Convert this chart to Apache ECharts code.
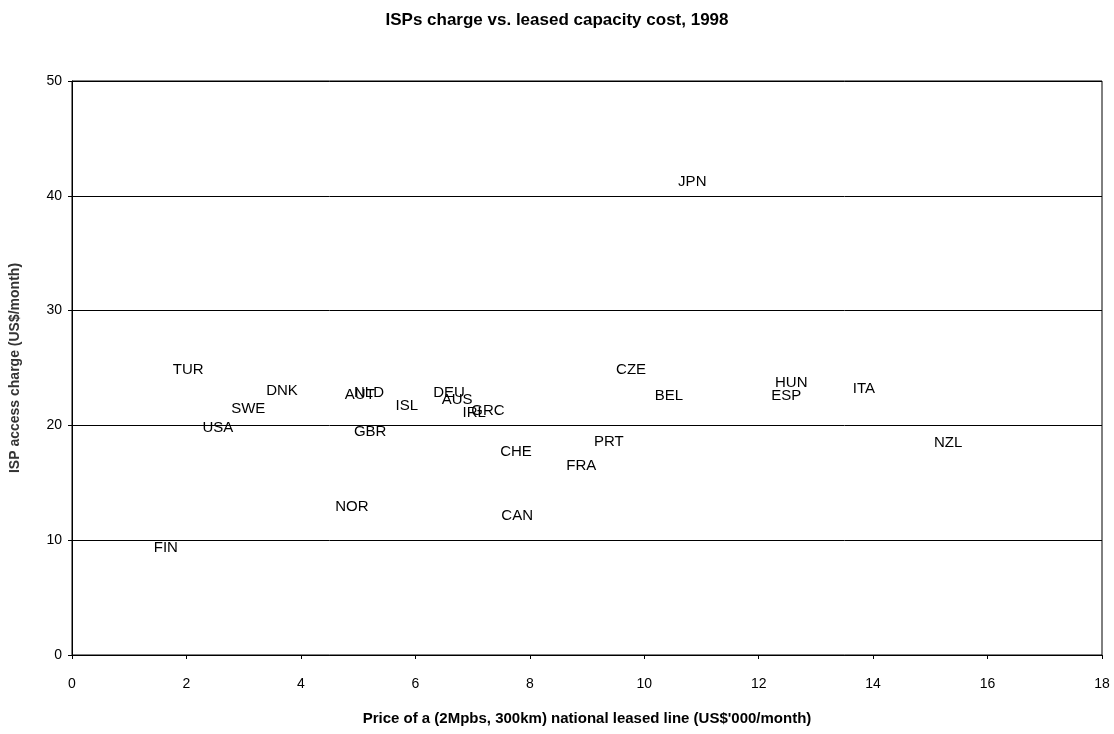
<!DOCTYPE html>
<html>
<head>
<meta charset="utf-8">
<script src="https://cdn.jsdelivr.net/npm/echarts@6/dist/echarts.min.js"></script>
<style>
  html, body { margin: 0; padding: 0; background: #fff; }
  #chart { width: 1114px; height: 734px; }
</style>
</head>
<body>
<div id="chart"></div>
<script>
// countries, leased line price (US$'000/month), ISP charge (US$/month)
var countries = ['JPN','TUR','DNK','SWE','USA','AUT','NLD','ISL','GBR','DEU','AUS','IRL','GRC','CHE','CAN','NOR','FIN','CZE','BEL','PRT','FRA','HUN','ESP','ITA','NZL'];
var leasedPrice = [10.84, 2.03, 3.67, 3.08, 2.55, 5.03, 5.19, 5.85, 5.21, 6.59, 6.73, 7.03, 7.27, 7.76, 7.78, 4.89, 1.64, 9.77, 10.43, 9.38, 8.90, 12.57, 12.48, 13.84, 15.31];
var ispCharge = [41.2, 24.8, 23.0, 21.4, 19.8, 22.7, 22.8, 21.7, 19.4, 22.8, 22.2, 21.1, 21.3, 17.7, 12.1, 12.9, 9.3, 24.8, 22.6, 18.6, 16.5, 23.7, 22.6, 23.2, 18.5];

var points = countries.map(function (c, i) {
  return { name: c, value: [leasedPrice[i], ispCharge[i]] };
});

var font = 'Liberation Sans, Arial, sans-serif';
var myChart = echarts.init(document.getElementById('chart'));
myChart.setOption({
  animation: false,
  backgroundColor: '#fff',
  title: {
    text: 'ISPs charge vs. leased capacity cost, 1998',
    left: 'center',
    top: 7,
    textStyle: { fontFamily: font, fontSize: 17, fontWeight: 'bold', color: '#000' }
  },
  grid: {
    left: 72, right: 12, top: 81, bottom: 79,
    show: true, borderColor: '#000', borderWidth: 1, backgroundColor: 'transparent'
  },
  xAxis: {
    type: 'value', min: 0, max: 18, interval: 2,
    name: "Price of a (2Mpbs, 300km) national leased line (US$'000/month)",
    nameLocation: 'middle', nameGap: 56,
    nameTextStyle: { fontFamily: font, fontSize: 15, fontWeight: 'bold', color: '#000' },
    axisLine: { lineStyle: { color: '#000' } },
    axisTick: { show: true, length: 4, lineStyle: { color: '#000' } },
    axisLabel: { fontFamily: font, fontSize: 14, color: '#000', margin: 22 },
    splitLine: { show: false }
  },
  yAxis: {
    type: 'value', min: 0, max: 50, interval: 10,
    name: 'ISP access charge (US$/month)',
    nameLocation: 'middle', nameGap: 50,
    nameTextStyle: { fontFamily: font, fontSize: 14, fontWeight: 'bold', color: '#333' },
    axisLine: { lineStyle: { color: '#000' } },
    axisTick: { show: true, length: 4, lineStyle: { color: '#000' } },
    axisLabel: { fontFamily: font, fontSize: 14, color: '#000', margin: 10 },
    splitLine: { show: true, lineStyle: { color: '#000', width: 1 } }
  },
  series: [{
    type: 'scatter',
    data: points,
    symbolSize: 0.01,
    itemStyle: { color: '#000', opacity: 1 },
    label: {
      show: true,
      position: 'inside',
      formatter: '{b}',
      fontFamily: font,
      fontSize: 15,
      color: '#000',
      opacity: 1,
      textBorderWidth: 0
    },
    emphasis: { disabled: true },
    labelLayout: { hideOverlap: false }
  }]
});
</script>
</body>
</html>
